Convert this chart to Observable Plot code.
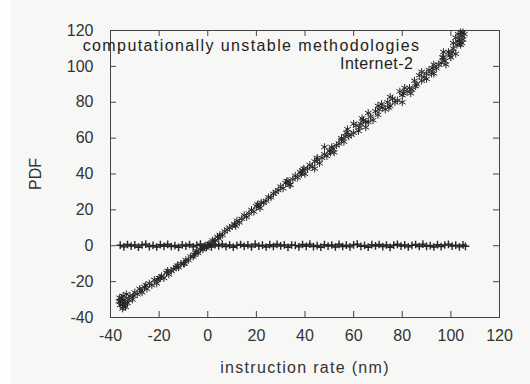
<!DOCTYPE html>
<html>
<head>
<meta charset="utf-8">
<script src="https://cdn.jsdelivr.net/npm/d3@7"></script>
<script src="https://cdn.jsdelivr.net/npm/@observablehq/plot@0.6"></script>
<style>
  html, body { margin: 0; padding: 0; }
  body { width: 530px; height: 384px; overflow: hidden;
         background: linear-gradient(to right, #fdfdfd 11px, #f7f7f5 11px); }
  #chart svg { display: block; }
  .leg1 text { letter-spacing: 1.4px; }
  .leg2 text { letter-spacing: 0.5px; }
</style>
</head>
<body>
<div id="chart"></div>
<script>
const xTicks = [-40, -20, 0, 20, 40, 60, 80, 100, 120];
const yTicks = [-40, -20, 0, 20, 40, 60, 80, 100, 120];
const seriesNames = ["computationally unstable methodologies", "Internet-2"];

const diagX = [
  -36,-35.5,-35,-34,-33.5,-33,-32,-31,-30,-29,
  -28,-27,-26,-25,-24,-23,-22,-21,-20,-19,
  -18,-17,-16,-15,-14,-13,-12,-11,-10,-9,
  -8,-7,-6,-5,-4,-3,-2,-1,0,1,
  2,3,4,5,6,7,8,10,11,12,
  13,14,15,16,18,19,20,21,22,24,
  25,26,27,28,30,31,32,33,34,36,
  37,38,39,40,42,43,44,45,46,48,
  49,50,51,52,54,55,56,57,58,60,
  61,62,63,64,66,67,68,69,70,72,
  73,74,75,76,78,79,80,81,82,84,
  85,86,87,88,90,91,92,93,94,96,
  97,98,99,100,101,102,103,104,104.5,105,
  103,102,105,101,-35,-34.5,-36.5,55,65,45
];
const diagY = [
  -33,-29,-35,-30,-27,-32,-28,-30,-26,-27,
  -24,-26,-23,-24,-21,-22,-19,-21,-18,-17,
  -18,-15,-16,-14,-13,-12,-12,-10,-10,-8,
  -8,-6,-6,-4,-4,-2,-2,0,0,1,
  3,3,5,6,6,8,9,11,12,14,
  13,15,17,16,20,19,22,22,24,25,
  27,27,29,30,33,32,35,36,34,39,
  38,41,42,40,45,44,47,48,46,51,
  50,53,55,52,57,60,58,63,61,63,
  67,64,68,70,69,72,70,75,73,77,
  76,80,78,82,81,86,84,88,86,87,
  92,90,95,92,96,98,96,101,99,102,
  105,101,108,105,110,107,114,112,117,115,
  118,116,119,113,-31,-34,-31,59,66,49
];
// additional clustered observations of the same series
const diag2X = [
  -35.8,-34.8,-35.2,-33.8,-32.5,-36.2,-34.2,-30.5,-27.5,-25.5,
  -19.5,-20.5,-16.5,-12.5,-9.5,-5.5,-4.5,-2.5,-0.5,0.5,
  2.5,4.5,9,11.5,17,20.5,21.5,23,29,32.5,
  33.5,35,38.5,39.5,41,47,50.5,51.5,53,56.5,
  57.5,59,62.5,63.5,65,70.5,71.5,74.5,77,80.5,
  83,83.5,85.5,89,92.5,95,96.5,97.5,99.5,100.5,
  102.5,103.5,104.5,105.5,104,
  60,66,75,80,88,93,97,90,70,48,44
];
const diag2Y = [
  -31,-28,-33,-34,-30,-29,-32,-28,-25,-22,
  -18,-19,-14,-11,-10,-5,-3,-1,-1,1,
  2,4,10,11,18,23,21,24,31,36,
  34,37,40,43,43,49,52,54,56,61,
  65,62,66,71,69,76,79,77,80,85,
  88,85,89,94,99,101,105,103,106,108,
  112,115,113,118,119,
  68,74,83,80,97,96,108,93,78,55,43
];

const flatX = [
  -36,-34.5,-33,-31.5,-30,-28.5,-27,-25.5,-24,-22.5,
  -21,-19.5,-18,-16.5,-15,-13.5,-12,-10.5,-9,-7.5,
  -6,-4.5,-3,-1.5,0,1.5,3,4.5,6,7.5,
  9,10.5,12,13.5,15,16.5,18,19.5,21,22.5,
  24,25.5,27,28.5,30,31.5,33,34.5,36,37.5,
  39,40.5,42,43.5,45,46.5,48,49.5,51,52.5,
  54,55.5,57,58.5,60,61.5,63,64.5,66,67.5,
  69,70.5,72,73.5,75,76.5,78,79.5,81,82.5,
  84,85.5,87,88.5,90,91.5,93,94.5,96,97.5,
  99,100.5,102,103.5,105,106
];
const flatY = [
  0.3,-0.6,0.7,-0.2,0.5,-0.8,0.4,0.9,-0.5,0.2,
  -0.7,0.6,-0.3,0.8,-0.4,0.1,-0.9,0.5,-0.2,0.7,
  -0.6,0.3,0.9,-0.4,0.2,-0.7,0.6,-0.1,0.8,-0.5,
  0.4,-0.8,0.2,0.7,-0.3,0.5,-0.6,0.9,-0.2,0.3,
  -0.7,0.6,-0.4,0.8,-0.1,0.5,-0.9,0.4,0.2,-0.6,
  0.7,-0.3,0.9,-0.5,0.1,-0.8,0.6,-0.2,0.4,-0.7,
  0.8,-0.4,0.3,-0.6,0.5,0.9,-0.3,0.2,-0.8,0.6,
  -0.1,0.7,-0.5,0.4,-0.9,0.3,0.8,-0.2,0.5,-0.6,
  0.2,0.7,-0.4,0.9,-0.3,0.1,-0.7,0.6,-0.5,0.4,
  0.8,-0.2,0.3,-0.6,0.5,-0.3
];

const diag = diagX.map((x, i) => ({x, y: diagY[i]}))
  .concat(diag2X.map((x, i) => ({x, y: diag2Y[i]})));
const flat = flatX.map((x, i) => ({x, y: flatY[i]}));

const ink = "#262626";
const axisInk = "#444";
const fmt = d => String(d);
const W = 530, H = 384, ML = 110, MR = 31, MT = 30, MB = 67;
const tick = 6;
const chart = Plot.plot({
  width: W,
  height: H,
  marginLeft: ML,
  marginRight: MR,
  marginTop: MT,
  marginBottom: MB,
  style: {background: "transparent", fontFamily: "'Liberation Sans', Arial, sans-serif", fontSize: "16px", color: "#333"},
  x: {domain: [-40, 120]},
  y: {domain: [-40, 120]},
  marks: [
    Plot.tickX(xTicks, {x: d => d, insetTop: H - MT - MB - tick, stroke: axisInk}),
    Plot.tickX(xTicks, {x: d => d, insetBottom: H - MT - MB - tick, stroke: axisInk}),
    Plot.tickY(yTicks, {y: d => d, insetRight: W - ML - MR - tick, stroke: axisInk}),
    Plot.tickY(yTicks, {y: d => d, insetLeft: W - ML - MR - tick, stroke: axisInk}),
    Plot.axisX(xTicks, {anchor: "bottom", tickSize: 0, tickPadding: 12, tickFormat: fmt, fill: "#333",
      label: "instruction rate (nm)", labelAnchor: "center", labelArrow: "none", labelOffset: 55}),
    Plot.axisY(yTicks, {anchor: "left", tickSize: 0, tickPadding: 17, tickFormat: fmt, fill: "#333",
      label: "PDF", labelAnchor: "center", labelArrow: "none", labelOffset: 81}),
    Plot.frame({stroke: axisInk}),
    Plot.line(flat, {x: "x", y: "y", stroke: ink, strokeWidth: 1.2}),
    Plot.dot(flat, {x: "x", y: "y", symbol: "plus", r: 2.6, stroke: ink, strokeWidth: 1.4}),
    Plot.dot(diag, {x: "x", y: "y", symbol: "asterisk", r: 3.6, stroke: ink, strokeWidth: 1}),
    Plot.text([seriesNames[0]], {frameAnchor: "top-right", dx: -79, dy: 15, textAnchor: "end", lineAnchor: "middle",
      fill: "#222", fontSize: 16, className: "leg1"}),
    Plot.text([seriesNames[1]], {frameAnchor: "top-right", dx: -86, dy: 33, textAnchor: "end", lineAnchor: "middle",
      fill: "#222", fontSize: 16, className: "leg2"})
  ]
});
chart.querySelectorAll("[aria-label='x-axis label'] text").forEach(t => t.style.letterSpacing = "1.3px");
document.getElementById("chart").append(chart);
</script>
</body>
</html>
